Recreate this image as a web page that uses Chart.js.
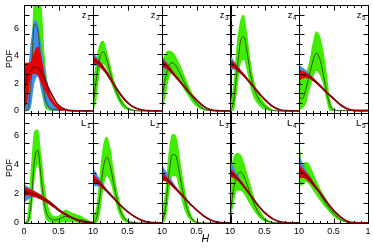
<!DOCTYPE html>
<html>
<head>
<meta charset="utf-8">
<script src="https://cdn.jsdelivr.net/npm/chart.js@4.4.0/dist/chart.umd.min.js"></script>
<style>
  html, body { margin: 0; padding: 0; background: #fff; }
  #wrap { position: relative; width: 373px; height: 248px; overflow: hidden; }
  #wrap canvas { position: absolute; left: 0; top: 0; }
</style>
</head>
<body>
<div id="wrap"></div>
<script>
// H grid shared by every panel
const xs = [0, 0.05, 0.1, 0.15, 0.2, 0.25, 0.3, 0.35, 0.4, 0.45, 0.5, 0.6, 0.7, 0.8, 1];

// tick labels
const yTickVals = [0, 2, 4, 6];
const xTickVals = [0, 0.5, 1];
const xTickText = ["0", "0.5", "1"];

// panel names
const rowNames = ["z", "L"];
const panelSubs = ["1", "2", "3", "4", "5"];

// ---- z1 ----
const z1GHi  = [0, 0.1, 2.5, 9, 9, 8, 4, 1.8, 0.5, 0.3, 0.2, 0.15, 0, 0, 0];
const z1GLo  = [0, 0, 0.4, 3.0, 3.5, 1.5, 0.3, 0.05, 0, 0, 0, 0, 0, 0, 0];
const z1GMid = [0, 0.05, 2.0, 6.3, 5.9, 3.2, 1.1, 0.35, 0.12, 0.1, 0.08, 0.04, 0, 0, 0];
const z1BHi  = [1.0, 2.5, 5.0, 6.6, 6.4, 4.8, 3.2, 1.8, 0.9, 0.45, 0.2, 0.03, 0, 0, 0];
const z1BLo  = [0, 0, 0.3, 2.0, 2.5, 1.5, 0.6, 0.2, 0.05, 0, 0, 0, 0, 0, 0];
const z1RHi  = [3.5, 3.5, 3.6, 4.3, 4.7, 3.9, 2.6, 1.6, 1.0, 0.6, 0.35, 0.1, 0.02, 0, 0];
const z1RLo  = [0, 0.8, 2.4, 2.7, 2.6, 2.0, 1.5, 1.0, 0.6, 0.3, 0.1, 0, 0, 0, 0];
const z1RMid = [1.6, 2.5, 3.0, 3.2, 3.15, 2.8, 2.3, 1.7, 1.2, 0.75, 0.4, 0.1, 0.02, 0, 0];

// ---- z2 ----
const z2GHi  = [2.0, 3.8, 4.9, 5.1, 4.4, 3.4, 2.4, 1.6, 1.0, 0.6, 0.3, 0.07, 0.01, 0, 0];
const z2GLo  = [0, 0.8, 2.9, 3.4, 3.0, 2.2, 1.5, 0.9, 0.45, 0.2, 0.06, 0, 0, 0, 0];
const z2GMid = [0.4, 2.4, 3.9, 4.3, 3.7, 2.8, 1.9, 1.25, 0.72, 0.4, 0.18, 0.03, 0, 0, 0];
const z2BHi  = [4.25, 3.95, 3.66, 3.3, 2.9, 2.48, 2.06, 1.65, 1.29, 0.95, 0.66, 0.29, 0.1, 0.03, 0];
const z2BLo  = [3.3, 3.3, 3.15, 2.9, 2.58, 2.22, 1.84, 1.45, 1.11, 0.81, 0.54, 0.21, 0.06, 0.01, 0];
const z2RHi  = [3.95, 3.8, 3.6, 3.28, 2.9, 2.48, 2.06, 1.65, 1.29, 0.95, 0.66, 0.29, 0.1, 0.03, 0];
const z2RLo  = [3.45, 3.4, 3.2, 2.92, 2.6, 2.22, 1.84, 1.45, 1.11, 0.81, 0.54, 0.21, 0.06, 0.01, 0];
const z2RMid = [3.7, 3.6, 3.4, 3.1, 2.75, 2.35, 1.95, 1.55, 1.2, 0.88, 0.6, 0.25, 0.08, 0.02, 0];

// ---- z3 ----
const z3GHi  = [3.5, 4.2, 4.4, 4.3, 4.0, 3.5, 2.9, 2.3, 1.7, 1.2, 0.8, 0.25, 0.05, 0, 0];
const z3GLo  = [0, 1.0, 2.3, 2.8, 2.6, 2.2, 1.7, 1.3, 0.9, 0.55, 0.3, 0.05, 0, 0, 0];
const z3GMid = [0.8, 2.4, 3.3, 3.5, 3.3, 2.8, 2.3, 1.8, 1.3, 0.9, 0.55, 0.15, 0.03, 0, 0];
const z3BHi  = [4.05, 3.7, 3.35, 2.98, 2.62, 2.3, 1.98, 1.68, 1.37, 1.1, 0.85, 0.4, 0.12, 0.03, 0];
const z3BLo  = [3.1, 3.05, 2.88, 2.65, 2.38, 2.1, 1.82, 1.52, 1.23, 1.0, 0.75, 0.3, 0.08, 0.01, 0];
const z3RHi  = [3.75, 3.55, 3.28, 2.95, 2.62, 2.3, 1.98, 1.68, 1.37, 1.1, 0.85, 0.4, 0.12, 0.03, 0];
const z3RLo  = [3.2, 3.12, 2.9, 2.65, 2.38, 2.1, 1.82, 1.52, 1.23, 1.0, 0.75, 0.3, 0.08, 0.01, 0];
const z3RMid = [3.5, 3.35, 3.1, 2.8, 2.5, 2.2, 1.9, 1.6, 1.3, 1.05, 0.8, 0.35, 0.1, 0.02, 0];

// ---- z4 ----
const z4GHi  = [0.3, 2.0, 5.0, 6.6, 7.0, 5.6, 3.6, 2.2, 1.4, 0.95, 0.6, 0.15, 0, 0, 0];
const z4GLo  = [0, 0, 1.3, 3.3, 3.7, 2.8, 1.6, 0.9, 0.5, 0.25, 0.1, 0, 0, 0, 0];
const z4GMid = [0, 0.6, 2.8, 5.0, 5.4, 4.2, 2.6, 1.6, 1.0, 0.6, 0.35, 0.05, 0, 0, 0];
const z4BHi  = [4.1, 3.7, 3.35, 3.03, 2.72, 2.4, 2.08, 1.78, 1.47, 1.18, 0.9, 0.44, 0.14, 0.03, 0];
const z4BLo  = [3.0, 3.0, 2.88, 2.7, 2.48, 2.2, 1.92, 1.62, 1.33, 1.06, 0.8, 0.36, 0.1, 0.01, 0];
const z4RHi  = [3.8, 3.55, 3.28, 3.0, 2.72, 2.4, 2.08, 1.78, 1.47, 1.18, 0.9, 0.44, 0.14, 0.03, 0];
const z4RLo  = [3.2, 3.12, 2.92, 2.7, 2.48, 2.2, 1.92, 1.62, 1.33, 1.06, 0.8, 0.36, 0.1, 0.01, 0];
const z4RMid = [3.5, 3.35, 3.1, 2.85, 2.6, 2.3, 2.0, 1.7, 1.4, 1.12, 0.85, 0.4, 0.12, 0.02, 0];

// ---- z5 ----
const z5GHi  = [3.0, 2.8, 2.9, 3.6, 5.0, 5.8, 5.5, 4.5, 2.8, 0.9, 0.2, 0.05, 0.05, 0.12, 0.12];
const z5GLo  = [0, 0.2, 0.5, 1.5, 2.3, 2.9, 2.6, 1.9, 0.7, 0, 0, 0, 0, 0, 0];
const z5GMid = [1.0, 0.9, 1.6, 2.6, 3.6, 4.2, 3.8, 2.7, 1.4, 0.4, 0.08, 0.02, 0.02, 0.05, 0.05];
const z5BHi  = [3.35, 3.15, 2.95, 2.72, 2.45, 2.2, 1.95, 1.68, 1.42, 1.18, 0.95, 0.5, 0.18, 0.04, 0];
const z5BLo  = [2.4, 2.45, 2.42, 2.35, 2.17, 2.0, 1.75, 1.52, 1.28, 1.06, 0.85, 0.4, 0.12, 0.02, 0];
const z5RHi  = [2.95, 2.9, 2.8, 2.65, 2.43, 2.2, 1.95, 1.68, 1.42, 1.18, 0.95, 0.5, 0.18, 0.04, 0];
const z5RLo  = [2.15, 2.35, 2.4, 2.35, 2.17, 2.0, 1.75, 1.52, 1.28, 1.06, 0.85, 0.4, 0.12, 0.02, 0];
const z5RMid = [2.6, 2.65, 2.6, 2.5, 2.3, 2.1, 1.85, 1.6, 1.35, 1.12, 0.9, 0.45, 0.15, 0.03, 0];

// ---- L1 ----
const L1GHi  = [0, 0.5, 3.8, 6.3, 6.4, 4.8, 2.6, 1.2, 0.6, 0.45, 0.5, 0.9, 0.7, 0.55, 0.02];
const L1GLo  = [0, 0, 0.3, 2.8, 4.0, 2.0, 0.5, 0.1, 0.02, 0, 0, 0.05, 0.05, 0, 0];
const L1GMid = [0, 0.05, 1.2, 4.2, 5.0, 3.0, 1.2, 0.45, 0.25, 0.2, 0.25, 0.45, 0.35, 0.25, 0];
const L1BHi  = [2.65, 2.5, 2.35, 2.2, 2.07, 1.93, 1.77, 1.6, 1.41, 1.21, 1.0, 0.68, 0.41, 0.19, 0.03];
const L1BLo  = [1.35, 1.6, 1.72, 1.74, 1.69, 1.59, 1.45, 1.31, 1.15, 0.99, 0.8, 0.52, 0.29, 0.11, 0.01];
const L1RHi  = [2.45, 2.38, 2.28, 2.17, 2.05, 1.92, 1.76, 1.6, 1.41, 1.21, 1.0, 0.68, 0.41, 0.19, 0.03];
const L1RLo  = [1.85, 1.88, 1.84, 1.78, 1.7, 1.59, 1.45, 1.31, 1.15, 0.99, 0.8, 0.52, 0.29, 0.11, 0.01];
const L1RMid = [2.15, 2.12, 2.05, 1.97, 1.87, 1.75, 1.6, 1.45, 1.28, 1.1, 0.9, 0.6, 0.35, 0.15, 0.02];

// ---- L2 ----
const L2GHi  = [0.3, 1.2, 3.5, 5.4, 5.9, 5.2, 3.7, 2.3, 1.3, 0.6, 0.25, 0.05, 0, 0, 0];
const L2GLo  = [0, 0, 0.6, 2.3, 3.2, 2.8, 1.9, 1.0, 0.4, 0.12, 0.03, 0, 0, 0, 0];
const L2GMid = [0, 0.3, 1.8, 3.8, 4.5, 3.9, 2.7, 1.6, 0.8, 0.35, 0.12, 0.02, 0, 0, 0];
const L2BHi  = [3.8, 3.4, 3.02, 2.66, 2.33, 2.04, 1.78, 1.52, 1.26, 1.03, 0.82, 0.48, 0.22, 0.07, 0];
const L2BLo  = [2.5, 2.52, 2.45, 2.3, 2.1, 1.86, 1.62, 1.38, 1.14, 0.93, 0.74, 0.42, 0.18, 0.05, 0];
const L2RHi  = [3.35, 3.12, 2.86, 2.58, 2.3, 2.04, 1.78, 1.52, 1.26, 1.03, 0.82, 0.48, 0.22, 0.07, 0];
const L2RLo  = [2.75, 2.68, 2.54, 2.32, 2.1, 1.86, 1.62, 1.38, 1.14, 0.93, 0.74, 0.42, 0.18, 0.05, 0];
const L2RMid = [3.05, 2.9, 2.7, 2.45, 2.2, 1.95, 1.7, 1.45, 1.2, 0.98, 0.78, 0.45, 0.2, 0.06, 0];

// ---- L3 ----
const L3GHi  = [0.5, 2.4, 5.0, 6.1, 6.0, 4.8, 3.2, 1.9, 0.9, 0.35, 0.1, 0, 0, 0, 0];
const L3GLo  = [0, 0.2, 1.8, 3.2, 3.2, 2.3, 1.3, 0.6, 0.25, 0.05, 0, 0, 0, 0, 0];
const L3GMid = [0, 1.0, 3.3, 4.7, 4.6, 3.5, 2.2, 1.2, 0.55, 0.2, 0.05, 0, 0, 0, 0];
const L3BHi  = [4.0, 3.6, 3.25, 2.88, 2.52, 2.21, 1.93, 1.67, 1.41, 1.17, 0.94, 0.53, 0.24, 0.07, 0];
const L3BLo  = [3.0, 2.95, 2.75, 2.5, 2.25, 2.01, 1.77, 1.53, 1.29, 1.07, 0.86, 0.47, 0.2, 0.05, 0];
const L3RHi  = [3.45, 3.25, 3.0, 2.73, 2.46, 2.19, 1.93, 1.67, 1.41, 1.17, 0.94, 0.53, 0.24, 0.07, 0];
const L3RLo  = [2.9, 2.84, 2.68, 2.47, 2.24, 2.01, 1.77, 1.53, 1.29, 1.07, 0.86, 0.47, 0.2, 0.05, 0];
const L3RMid = [3.2, 3.05, 2.85, 2.6, 2.35, 2.1, 1.85, 1.6, 1.35, 1.12, 0.9, 0.5, 0.22, 0.06, 0];

// ---- L4 ----
const L4GHi  = [3.5, 4.5, 4.8, 4.7, 4.2, 3.4, 2.6, 1.8, 1.2, 0.75, 0.4, 0.1, 0, 0, 0];
const L4GLo  = [0, 1.2, 2.2, 2.2, 2.0, 1.6, 1.2, 0.8, 0.5, 0.25, 0.1, 0, 0, 0, 0];
const L4GMid = [0.5, 2.3, 3.2, 3.5, 3.2, 2.6, 1.9, 1.3, 0.8, 0.45, 0.25, 0.05, 0, 0, 0];
const L4BHi  = [4.4, 3.85, 3.4, 3.0, 2.65, 2.29, 1.95, 1.62, 1.3, 1.01, 0.76, 0.38, 0.14, 0.04, 0];
const L4BLo  = [3.5, 3.3, 3.05, 2.75, 2.43, 2.11, 1.81, 1.5, 1.2, 0.93, 0.68, 0.32, 0.1, 0.02, 0];
const L4RHi  = [3.8, 3.52, 3.24, 2.95, 2.63, 2.29, 1.95, 1.62, 1.3, 1.01, 0.76, 0.38, 0.14, 0.04, 0];
const L4RLo  = [3.2, 3.08, 2.92, 2.69, 2.41, 2.11, 1.81, 1.5, 1.2, 0.93, 0.68, 0.32, 0.1, 0.02, 0];
const L4RMid = [3.5, 3.3, 3.08, 2.82, 2.52, 2.2, 1.88, 1.56, 1.25, 0.97, 0.72, 0.35, 0.12, 0.03, 0];

// ---- L5 ----
const L5GHi  = [6.0, 4.0, 4.2, 4.0, 3.5, 2.95, 2.45, 2.0, 1.6, 1.2, 0.85, 0.35, 0.1, 0, 0];
const L5GLo  = [2.5, 2.6, 2.8, 2.6, 2.25, 1.9, 1.55, 1.25, 0.95, 0.7, 0.45, 0.15, 0.03, 0, 0];
const L5GMid = [3.6, 3.3, 3.4, 3.2, 2.8, 2.4, 2.0, 1.6, 1.25, 0.95, 0.65, 0.25, 0.06, 0, 0];
const L5BHi  = [4.7, 4.1, 3.65, 3.25, 2.88, 2.52, 2.2, 1.86, 1.52, 1.2, 0.91, 0.45, 0.14, 0.03, 0];
const L5BLo  = [3.3, 3.2, 3.05, 2.82, 2.55, 2.28, 2.0, 1.7, 1.38, 1.1, 0.83, 0.39, 0.1, 0.01, 0];
const L5RHi  = [4.0, 3.75, 3.48, 3.18, 2.85, 2.52, 2.2, 1.86, 1.52, 1.2, 0.91, 0.45, 0.14, 0.03, 0];
const L5RLo  = [3.1, 3.1, 3.0, 2.8, 2.55, 2.28, 2.0, 1.7, 1.38, 1.1, 0.83, 0.39, 0.1, 0.01, 0];
const L5RMid = [3.6, 3.45, 3.25, 3.0, 2.7, 2.4, 2.1, 1.78, 1.45, 1.15, 0.87, 0.42, 0.12, 0.02, 0];

// panel table, row by row
const panelSeries = [
  [z1GHi, z1GLo, z1GMid, z1BHi, z1BLo, z1RHi, z1RLo, z1RMid],
  [z2GHi, z2GLo, z2GMid, z2BHi, z2BLo, z2RHi, z2RLo, z2RMid],
  [z3GHi, z3GLo, z3GMid, z3BHi, z3BLo, z3RHi, z3RLo, z3RMid],
  [z4GHi, z4GLo, z4GMid, z4BHi, z4BLo, z4RHi, z4RLo, z4RMid],
  [z5GHi, z5GLo, z5GMid, z5BHi, z5BLo, z5RHi, z5RLo, z5RMid],
  [L1GHi, L1GLo, L1GMid, L1BHi, L1BLo, L1RHi, L1RLo, L1RMid],
  [L2GHi, L2GLo, L2GMid, L2BHi, L2BLo, L2RHi, L2RLo, L2RMid],
  [L3GHi, L3GLo, L3GMid, L3BHi, L3BLo, L3RHi, L3RLo, L3RMid],
  [L4GHi, L4GLo, L4GMid, L4BHi, L4BLo, L4RHi, L4RLo, L4RMid],
  [L5GHi, L5GLo, L5GMid, L5BHi, L5BLo, L5RHi, L5RLo, L5RMid],
];

// layout (pixels)
const W = 373, H = 248;
const colLeft = [24, 93, 162, 230, 299];
const panelW = 69;
const rowTop = [5, 113];
const rowBottom = [113, 223];
const yAxisW = 24;
const xAxisH = H - rowBottom[1];
const rowRange = [[-0.15, 7.7], [0, 7.53]];

const GREEN = "#40ec00";
const BLUE = "#3d8ee6";
const RED = "#e80000";
const DARK_RED = "#8a0000";
const OLIVE = "#3b5214";
const FONT = "'Liberation Sans', Arial, sans-serif";

const pts = (arr) => xs.map((x, i) => ({ x, y: arr[i] }));

// frame, inward ticks on all four sides and the panel tag
const panelFrame = {
  id: "panelFrame",
  afterDatasetsDraw(chart, args, opts) {
    const { ctx, chartArea: a, scales } = chart;
    const x = scales.x, y = scales.y;
    const L = Math.round(a.left) + 0.5, R = Math.round(a.right) + 0.5;
    const T = Math.round(a.top) + 0.5, B = Math.round(a.bottom) + 0.5;
    ctx.save();
    ctx.strokeStyle = "#000";
    ctx.lineWidth = 1;
    ctx.strokeRect(L, T, R - L, B - T);
    ctx.beginPath();
    for (let i = 1; i < 10; i++) {
      const px = Math.round(x.getPixelForValue(i / 10)) + 0.5;
      const len = i === 5 ? 5 : 2.5;
      ctx.moveTo(px, B); ctx.lineTo(px, B - len);
      ctx.moveTo(px, T); ctx.lineTo(px, T + len);
    }
    for (let k = 1; k < 11; k++) {
      const v = y.min + (k * (y.max - y.min)) / 11;
      const py = Math.round(y.getPixelForValue(v)) + 0.5;
      const len = k % 2 === 0 ? 5 : 3;
      ctx.moveTo(L, py); ctx.lineTo(L + len, py);
      ctx.moveTo(R, py); ctx.lineTo(R - len, py);
    }
    ctx.stroke();

    // tag like z1 / L1, subscript digit
    ctx.fillStyle = "#000";
    ctx.textAlign = "right";
    ctx.textBaseline = "alphabetic";
    ctx.font = "6.5px " + FONT;
    const subW = ctx.measureText(opts.sub).width;
    ctx.fillText(opts.sub, R - 3, T + 14.5);
    ctx.font = "9.5px " + FONT;
    ctx.fillText(opts.name, R - 3 - subW - 0.5, T + 12.5);
    ctx.restore();
  },
};

const wrap = document.getElementById("wrap");

panelSeries.forEach((s, idx) => {
  const row = Math.floor(idx / 5);
  const col = idx % 5;
  const [gHi, gLo, gMid, bHi, bLo, rHi, rLo, rMid] = s;

  const cv = document.createElement("canvas");
  cv.width = W;
  cv.height = H;
  wrap.appendChild(cv);

  const band = (arr, color, fillIt) => ({
    data: pts(arr),
    borderWidth: 0,
    pointRadius: 0,
    fill: fillIt ? "+1" : false,
    backgroundColor: color,
    borderColor: color,
    cubicInterpolationMode: "monotone",
  });
  const line = (arr, color, width) => ({
    data: pts(arr),
    borderWidth: width,
    pointRadius: 0,
    fill: false,
    borderColor: color,
    cubicInterpolationMode: "monotone",
  });

  // first dataset is drawn on top
  const datasets = [
    line(rMid, DARK_RED, 1.8),
    band(rHi, RED, true),
    band(rLo, RED, false),
    line(gMid, OLIVE, 1),
    band(bHi, BLUE, true),
    band(bLo, BLUE, false),
    band(gHi, GREEN, true),
    band(gLo, GREEN, false),
  ];

  const showY = col === 0;
  const showX = row === 1;

  new Chart(cv.getContext("2d"), {
    type: "line",
    data: { datasets },
    plugins: [panelFrame],
    options: {
      responsive: false,
      animation: false,
      devicePixelRatio: 1,
      layout: {
        padding: {
          left: showY ? colLeft[0] - yAxisW : colLeft[col],
          right: W - (colLeft[col] + panelW),
          top: rowTop[row],
          bottom: showX ? H - rowBottom[1] - xAxisH : H - rowBottom[row],
        },
      },
      plugins: {
        legend: { display: false },
        tooltip: { enabled: false },
        panelFrame: { name: rowNames[row], sub: panelSubs[col] },
      },
      scales: {
        x: {
          type: "linear",
          min: 0,
          max: 1,
          display: showX,
          grid: { display: false, drawTicks: false },
          border: { display: false },
          afterBuildTicks: (sc) => { sc.ticks = xTickVals.map((v) => ({ value: v })); },
          afterFit: (sc) => {
            if (!showX) return;
            sc.height = xAxisH;
            sc.paddingLeft = 0;
            sc.paddingRight = 0;
          },
          ticks: {
            autoSkip: false,
            maxRotation: 0,
            padding: 3,
            color: "#000",
            font: { family: FONT, size: 9 },
            callback: (v, i) => {
              if (i === 0) return col === 0 ? xTickText[0] : xTickText[2] + xTickText[0];
              if (i === 2) return col === 4 ? xTickText[2] : "";
              return xTickText[1];
            },
          },
          title: {
            display: col === 2,
            text: "      H",
            color: "#000",
            font: { family: FONT, size: 10.5, style: "italic" },
            padding: { top: 0, bottom: 3 },
          },
        },
        y: {
          type: "linear",
          min: rowRange[row][0],
          max: rowRange[row][1],
          display: showY,
          grid: { display: false, drawTicks: false },
          border: { display: false },
          afterBuildTicks: (sc) => { sc.ticks = yTickVals.map((v) => ({ value: v })); },
          afterFit: (sc) => {
            if (!showY) return;
            sc.width = yAxisW;
            sc.paddingTop = 0;
            sc.paddingBottom = 0;
          },
          ticks: {
            padding: 5,
            color: "#000",
            font: { family: FONT, size: 9 },
          },
          title: {
            display: true,
            text: "PDF",
            color: "#000",
            font: { family: FONT, size: 9 },
            padding: { top: 4, bottom: 0 },
          },
        },
      },
    },
  });
});
</script>
</body>
</html>
